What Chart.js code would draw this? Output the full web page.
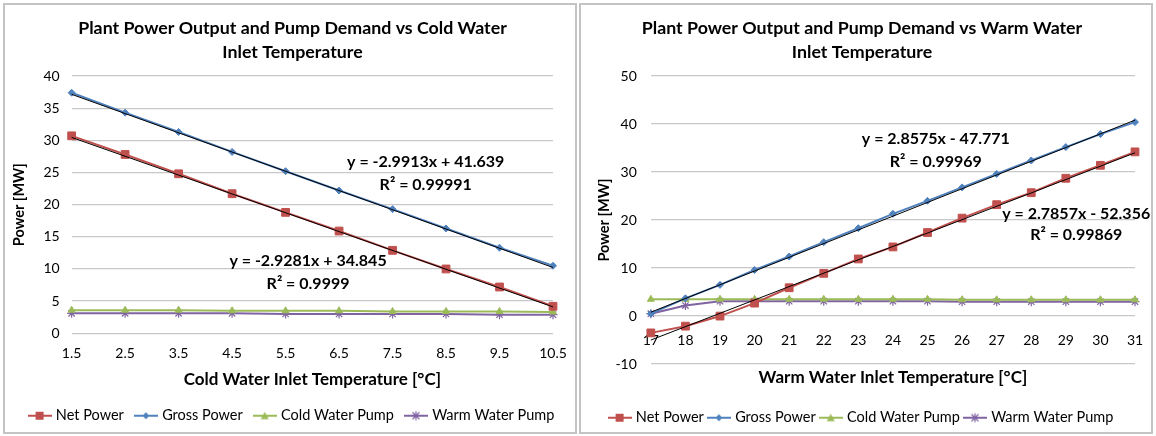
<!DOCTYPE html>
<html>
<head>
<meta charset="utf-8">
<script src="https://cdn.jsdelivr.net/npm/chart.js@4.4.1/dist/chart.umd.min.js"></script>
<style>
body { margin: 0; background: #fff; width: 1156px; height: 436px; position: relative; overflow: hidden; }
.panel { position: absolute; top: 3px; width: 574px; height: 431px; border: 2px solid #c4c4c4; box-sizing: border-box; }
#p1 { left: 3px; }
#p2 { left: 579px; }
canvas { display: block; }
</style>
</head>
<body>
<div class="panel" id="p1"><canvas id="c1" width="570" height="427"></canvas></div>
<div class="panel" id="p2"><canvas id="c2" width="570" height="427"></canvas></div>
<script>
// ---- data: cold water inlet chart
const coldTemps = ['1.5', '2.5', '3.5', '4.5', '5.5', '6.5', '7.5', '8.5', '9.5', '10.5'];
const coldNet = [30.7, 27.8, 24.8, 21.7, 18.8, 15.9, 12.9, 10.0, 7.2, 4.2];
const coldGross = [37.4, 34.3, 31.3, 28.2, 25.2, 22.2, 19.3, 16.3, 13.3, 10.5];
const coldCwp = [3.6, 3.6, 3.6, 3.5, 3.5, 3.5, 3.4, 3.4, 3.4, 3.3];
const coldWwp = [3.1, 3.1, 3.1, 3.1, 3.0, 3.0, 3.0, 3.0, 2.9, 2.9];
const coldNetFit = [30.45, 4.10];     // trendline ends
const coldGrossFit = [37.15, 10.23];
const coldYTicks = [0, 40, 5];

// ---- data: warm water inlet chart
const warmTemps = ['17', '18', '19', '20', '21', '22', '23', '24', '25', '26', '27', '28', '29', '30', '31'];
const warmNet = [-3.5, -2.1, 0.0, 2.7, 5.9, 8.9, 11.9, 14.4, 17.4, 20.4, 23.2, 25.7, 28.7, 31.4, 34.2];
const warmGross = [0.5, 3.7, 6.5, 9.6, 12.4, 15.4, 18.3, 21.3, 24.0, 26.8, 29.6, 32.4, 35.2, 37.9, 40.4];
const warmCwp = [3.5, 3.5, 3.5, 3.5, 3.5, 3.5, 3.5, 3.5, 3.5, 3.4, 3.4, 3.4, 3.4, 3.4, 3.4];
const warmWwp = [0.5, 2.2, 3.1, 3.1, 3.1, 3.1, 3.1, 3.1, 3.1, 3.0, 3.0, 3.0, 3.0, 3.0, 3.0];
const warmNetFit = [-4.99, 34.00];
const warmGrossFit = [0.81, 40.81];
const warmYTicks = [-10, 50, 10];

const seriesNames = ['Net Power', 'Gross Power', 'Cold Water Pump', 'Warm Water Pump'];
const coldFitText = [['y = -2.9913x + 41.639', 'R² = 0.99991'], ['y = -2.9281x + 34.845', 'R² = 0.9999']];
const warmFitText = [['y = 2.8575x - 47.771', 'R² = 0.99969'], ['y = 2.7857x - 52.356', 'R² = 0.99869']];

const FONT = 'Lato';
const colors = ['#c0504d', '#4f81bd', '#9bbb59', '#8064a2'];
const styles = ['rect', 'rectRot', 'triangle', 'star'];
const radii = [5.5, 3.5, 4, 4.5];

// legend swatch: short line with the marker in the middle
function swatch(color, style) {
    const c = document.createElement('canvas');
    c.width = 24; c.height = 12;
    const g = c.getContext('2d');
    g.strokeStyle = color; g.fillStyle = color; g.lineWidth = 2;
    g.beginPath(); g.moveTo(0, 6); g.lineTo(24, 6); g.stroke();
    g.beginPath();
    if (style == 'rect') g.fillRect(8, 2, 8, 8);
    else if (style == 'rectRot') { g.moveTo(12, 2.5); g.lineTo(15.5, 6); g.lineTo(12, 9.5); g.lineTo(8.5, 6); g.closePath(); g.fill(); }
    else if (style == 'triangle') { g.moveTo(12, 2); g.lineTo(16, 9.5); g.lineTo(8, 9.5); g.closePath(); g.fill(); }
    else { g.lineWidth = 1.2; g.moveTo(8.5, 2.5); g.lineTo(15.5, 9.5); g.moveTo(15.5, 2.5); g.lineTo(8.5, 9.5); g.moveTo(12, 1.5); g.lineTo(12, 10.5); g.stroke(); }
    return c;
}

function fitLine(labels, ends) {
    return labels.map((_, i) => i == 0 ? ends[0] : (i == labels.length - 1 ? ends[1] : null));
}

function buildDatasets(labels, series, fits) {
    const ds = series.map((vals, i) => ({
        label: seriesNames[i],
        data: vals,
        borderColor: colors[i],
        backgroundColor: colors[i],
        borderWidth: 2,
        pointStyle: styles[i],
        pointRadius: radii[i],
        pointBorderWidth: i == 3 ? 1.2 : 1,
        tension: 0
    }));
    fits.forEach(f => ds.push({
        label: 'fit',
        data: fitLine(labels, f),
        borderColor: '#000',
        borderWidth: 1,
        pointRadius: 0,
        spanGaps: true,
        order: -1
    }));
    return ds;
}

// trendline equation text, anchored in data coordinates
const fitLabels = {
    id: 'fitLabels',
    afterDatasetsDraw(chart, args, opts) {
        const ctx = chart.ctx;
        ctx.save();
        ctx.font = 'bold 16px ' + FONT;
        ctx.fillStyle = '#000';
        ctx.textAlign = 'center';
        ctx.textBaseline = 'middle';
        opts.items.forEach(it => {
            const x = chart.scales.x.getPixelForValue(it.at[0]);
            const y = chart.scales.y.getPixelForValue(it.at[1]);
            it.text.forEach((t, k) => ctx.fillText(t, x, y + k * it.gap));
        });
        ctx.restore();
    }
};

function makeChart(id, cfg) {
    const legendLabels = seriesNames.map((n, i) => swatch(colors[i], styles[i]));
    return new Chart(document.getElementById(id), {
        type: 'line',
        data: { labels: cfg.labels, datasets: cfg.datasets },
        plugins: [fitLabels],
        options: {
            responsive: false,
            animation: false,
            layout: { padding: cfg.padding },
            plugins: {
                title: {
                    display: true,
                    text: cfg.title,
                    color: '#000',
                    font: { family: FONT, size: 17.8, weight: 'bold', lineHeight: 24 / 17.8 },
                    padding: { top: 11, bottom: 12 }
                },
                legend: {
                    position: 'bottom',
                    labels: {
                        color: '#000',
                        font: { family: FONT, size: 14.5 },
                        usePointStyle: true,
                        pointStyleWidth: 18,
                        padding: cfg.legendGap,
                        generateLabels: chart => chart.data.datasets.slice(0, 4).map((d, i) => ({
                            text: d.label, datasetIndex: i, pointStyle: legendLabels[i],
                            fillStyle: colors[i], strokeStyle: colors[i], lineWidth: 0, hidden: false, fontColor: '#000'
                        }))
                    }
                },
                tooltip: { enabled: false },
                fitLabels: { items: cfg.fitItems }
            },
            scales: cfg.scales
        }
    });
}

const tickFont = { family: FONT, size: 14 };
const yTitleFont = { family: FONT, size: 14.5, weight: 'bold' };
const xTitleFont = { family: FONT, size: 17, weight: 'bold' };
const gridStyle = { color: '#c8c8c8', lineWidth: 1.3, drawTicks: false };

makeChart('c1', {
    labels: coldTemps,
    title: ['Plant Power Output and Pump Demand vs Cold Water', 'Inlet Temperature'],
    padding: { left: 7, right: 2, bottom: -1 },
    legendGap: 13,
    datasets: buildDatasets(coldTemps, [coldNet, coldGross, coldCwp, coldWwp], [coldNetFit, coldGrossFit]),
    fitItems: [
        { at: [6.62, 26.7], gap: 23, text: coldFitText[0] },
        { at: [4.42, 11.25], gap: 23, text: coldFitText[1] }
    ],
    scales: {
        x: {
            afterFit: s => { s.paddingRight = 22; },
            grid: { display: false, drawTicks: false },
            border: { display: false },
            ticks: { font: tickFont, color: '#000', padding: 12, maxRotation: 0 },
            title: { display: true, text: 'Cold Water Inlet Temperature [°C]', color: '#000', font: xTitleFont, padding: { top: -5, bottom: 6 } }
        },
        y: {
            min: coldYTicks[0], max: coldYTicks[1],
            grid: gridStyle,
            border: { display: false },
            ticks: { stepSize: coldYTicks[2], font: tickFont, color: '#000', padding: 12 },
            title: { display: true, text: 'Power [MW]', color: '#000', font: yTitleFont, padding: { top: -1, bottom: 3 } }
        }
    }
});

makeChart('c2', {
    labels: warmTemps,
    title: ['Plant Power Output and Pump Demand vs Warm Water', 'Inlet Temperature'],
    padding: { left: 0, right: 8, bottom: -3 },
    legendGap: 6,
    datasets: buildDatasets(warmTemps, [warmNet, warmGross, warmCwp, warmWwp], [warmNetFit, warmGrossFit]),
    fitItems: [
        { at: [8.24, 36.9], gap: 23, text: warmFitText[0] },
        { at: [12.3, 21.2], gap: 21, text: warmFitText[1] }
    ],
    scales: {
        x: {
            position: { y: 0 },
            afterFit: s => { s.paddingRight = 16; },
            grid: { display: false, drawTicks: false },
            border: { display: false },
            ticks: { font: tickFont, color: '#000', padding: 16, maxRotation: 0 }
        },
        xTitle: {
            type: 'category',
            position: 'bottom',
            grid: { display: false, drawTicks: false },
            border: { display: false },
            ticks: { display: false },
            title: { display: true, text: 'Warm Water Inlet Temperature [°C]', color: '#000', font: xTitleFont, padding: { top: 3, bottom: 17 } }
        },
        y: {
            min: warmYTicks[0], max: warmYTicks[1],
            grid: gridStyle,
            border: { display: false },
            ticks: { stepSize: warmYTicks[2], font: tickFont, color: '#000', padding: 14 },
            title: { display: true, text: 'Power [MW]', color: '#000', font: yTitleFont, padding: { top: 15, bottom: -12 } }
        }
    }
});
</script>
</body>
</html>
